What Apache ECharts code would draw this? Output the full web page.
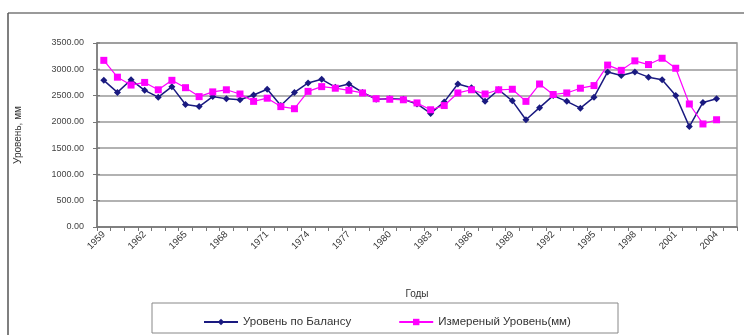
<!DOCTYPE html>
<html>
<head>
<meta charset="utf-8">
<style>
  html, body { margin: 0; padding: 0; background: #fff; }
  #chart { width: 744px; height: 335px; }
</style>
<script src="https://cdn.jsdelivr.net/npm/echarts@6/dist/echarts.min.js"></script>
</head>
<body>
<div id="chart"></div>
<script>
// Years on the category axis (the last slot is left empty)
const years = [
  '1959','1960','1961','1962','1963','1964','1965','1966','1967','1968',
  '1969','1970','1971','1972','1973','1974','1975','1976','1977','1978',
  '1979','1980','1981','1982','1983','1984','1985','1986','1987','1988',
  '1989','1990','1991','1992','1993','1994','1995','1996','1997','1998',
  '1999','2000','2001','2002','2003','2004','2005'
];

// Level from the water balance, mm
const balanceLevel = [
  2790, 2560, 2800, 2600, 2470, 2670, 2330, 2290, 2480, 2440,
  2420, 2510, 2620, 2310, 2560, 2740, 2810, 2660, 2720, 2560,
  2430, 2440, 2430, 2340, 2160, 2380, 2720, 2650, 2390, 2610,
  2400, 2040, 2270, 2500, 2390, 2260, 2470, 2950, 2880, 2950,
  2850, 2800, 2500, 1910, 2370, 2440
];

// Measured level, mm
const measuredLevel = [
  3170, 2850, 2700, 2750, 2610, 2790, 2650, 2480, 2570, 2610,
  2530, 2390, 2450, 2290, 2250, 2580, 2670, 2640, 2600, 2550,
  2440, 2430, 2420, 2360, 2230, 2310, 2550, 2610, 2530, 2610,
  2620, 2390, 2720, 2520, 2550, 2640, 2690, 3080, 2980, 3160,
  3090, 3210, 3020, 2340, 1960, 2040
];

const seriesNames = ['Уровень по Балансу', 'Измереный Уровень(мм)'];

const FONT = '"Liberation Sans", Arial, sans-serif';
const chart = echarts.init(document.getElementById('chart'), null, { renderer: 'canvas' });

chart.setOption({
  animation: false,
  backgroundColor: '#ffffff',
  textStyle: { fontFamily: FONT },
  graphic: [
    // outer frame edges
    { type: 'line', shape: { x1: 8, y1: 13, x2: 744, y2: 13 }, style: { stroke: '#9a9a9a', lineWidth: 2 }, z: 0 },
    { type: 'line', shape: { x1: 8, y1: 13, x2: 8, y2: 335 }, style: { stroke: '#555', lineWidth: 1.5 }, z: 0 },
    // legend box
    { type: 'rect', shape: { x: 152, y: 303, width: 466, height: 30 }, style: { fill: '#fff', stroke: '#888', lineWidth: 1 }, z: 0 },
    // y-axis ticks extend slightly inside the plot as well
    { type: 'group', children: [0, 1, 2, 3, 4, 5, 6, 7].map(k => ({
        type: 'line',
        shape: { x1: 97, y1: 227 - k * 26.29, x2: 100, y2: 227 - k * 26.29 },
        style: { stroke: '#777', lineWidth: 1 }, z: 5
      })) }
  ],
  grid: {
    left: 97, right: 7, top: 43, bottom: 108,
    show: true, borderColor: '#999', borderWidth: 1.5, backgroundColor: '#fff'
  },
  legend: {
    data: seriesNames,
    left: 198, top: 311,
    itemWidth: 34, itemHeight: 8, itemGap: 47,
    textStyle: { fontSize: 11.5, color: '#333', fontFamily: FONT }
  },
  xAxis: {
    type: 'category',
    data: years,
    boundaryGap: true,
    name: 'Годы',
    nameLocation: 'middle',
    nameGap: 62,
    nameTextStyle: { fontSize: 10, color: '#333' },
    axisLine: { lineStyle: { color: '#777', width: 1.5 } },
    axisTick: { show: true, interval: 0, length: 4, lineStyle: { color: '#777' } },
    axisLabel: { interval: 2, rotate: 45, fontSize: 9.5, color: '#333', margin: 6 },
    splitLine: { show: false }
  },
  yAxis: {
    type: 'value',
    min: 0, max: 3500, interval: 500,
    name: 'Уровень, мм',
    nameLocation: 'middle',
    nameGap: 74,
    nameTextStyle: { fontSize: 10, color: '#333' },
    axisLine: { show: true, lineStyle: { color: '#777', width: 1.5 } },
    axisTick: { show: true, length: 4, lineStyle: { color: '#777' } },
    axisLabel: { fontSize: 9, color: '#444', margin: 13, formatter: v => v.toFixed(2) },
    splitLine: { show: true, lineStyle: { color: '#999', width: 1.5 } }
  },
  series: [
    {
      name: seriesNames[0],
      type: 'line',
      data: balanceLevel,
      color: '#1a1a80',
      symbol: 'diamond',
      symbolSize: 7,
      showAllSymbol: true,
      lineStyle: { color: '#1a1a80', width: 1.5 },
      itemStyle: { color: '#1a1a80' },
      z: 2
    },
    {
      name: seriesNames[1],
      type: 'line',
      data: measuredLevel,
      color: '#ff00ff',
      symbol: 'rect',
      symbolSize: 7,
      showAllSymbol: true,
      lineStyle: { color: '#ff00ff', width: 1.2 },
      itemStyle: { color: '#ff00ff' },
      z: 3
    }
  ]
});
</script>
</body>
</html>
